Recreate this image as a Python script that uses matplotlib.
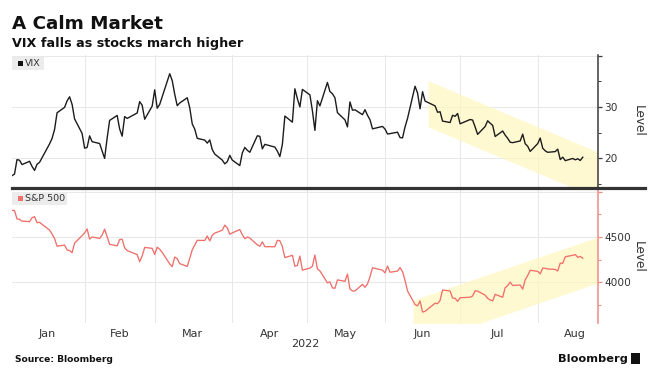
import matplotlib
matplotlib.use("Agg")
import matplotlib.pyplot as plt
import matplotlib.dates as mdates
from matplotlib.patches import Rectangle
from matplotlib.lines import Line2D
import pandas as pd
import numpy as np

# ---------------- data ----------------
holidays = ["2022-01-17", "2022-02-21", "2022-04-15", "2022-05-30", "2022-06-20", "2022-07-04"]
dates = pd.bdate_range("2022-01-03", "2022-08-19")
dates = dates[~dates.isin(pd.to_datetime(holidays))]

vix = [
    # Jan
    16.60, 16.91, 19.73, 19.61, 18.76, 19.40, 18.41, 17.62, 18.83, 19.19,
    22.79, 23.85, 25.59, 28.85, 29.90, 31.16, 31.96, 30.49, 27.66, 24.83,
    # Feb
    21.96, 22.09, 24.35, 23.22, 22.86, 21.44, 19.96, 23.91, 27.36, 28.33,
    25.70, 24.29, 28.11, 27.75, 28.81, 31.02, 30.32, 27.59, 30.15,
    # Mar
    33.32, 29.74, 30.48, 31.98, 36.45, 35.13, 32.45, 30.23, 30.75, 31.77,
    29.83, 26.67, 25.67, 23.87, 23.53, 22.94, 23.57, 21.67, 20.81, 19.63,
    18.90, 19.33, 20.56,
    # Apr
    19.63, 18.57, 21.03, 22.10, 21.55, 21.16, 24.37, 24.26, 21.82, 22.70,
    22.17, 21.37, 20.32, 22.68, 28.21, 27.02, 33.52, 31.60, 29.99, 33.40,
    # May
    32.34, 29.25, 25.42, 31.20, 30.19, 34.75, 32.99, 32.56, 31.77, 28.87,
    27.47, 26.10, 30.96, 29.35, 29.43, 28.48, 29.45, 28.37, 27.50, 25.72, 26.19,
    # Jun
    25.69, 24.72, 24.79, 25.07, 24.02, 23.96, 26.09, 27.75, 34.02, 32.69,
    29.62, 32.95, 31.13, 30.19, 28.95, 29.05, 27.23, 26.95, 28.36, 28.16, 28.71,
    # Jul
    26.70, 27.54, 27.43, 26.08, 24.64, 26.17, 27.29, 26.82, 26.40, 24.23,
    25.30, 24.50, 23.88, 23.11, 23.03, 23.36, 24.69, 22.82, 22.33, 21.33,
    # Aug
    22.84, 23.93, 21.95, 21.44, 21.15, 21.29, 21.77, 19.74, 20.20, 19.53,
    19.95, 19.69, 19.90, 19.56, 20.20,
]

spx = [
    # Jan
    4796.56, 4793.54, 4700.58, 4696.05, 4677.03, 4670.29, 4713.07, 4726.35, 4659.03, 4662.85,
    4577.11, 4532.76, 4482.73, 4397.94, 4410.13, 4356.45, 4349.93, 4326.51, 4431.85, 4515.55,
    # Feb
    4546.54, 4589.38, 4477.44, 4500.53, 4483.87, 4521.54, 4587.18, 4504.08, 4418.64, 4401.67,
    4471.07, 4475.01, 4380.26, 4348.87, 4304.76, 4225.50, 4288.70, 4384.65, 4373.94,
    # Mar
    4306.26, 4386.54, 4363.49, 4328.87, 4201.09, 4170.70, 4277.88, 4259.52, 4204.31, 4173.11,
    4262.45, 4357.86, 4411.67, 4463.12, 4461.18, 4511.61, 4456.24, 4520.16, 4543.06, 4575.52,
    4631.60, 4602.45, 4530.41,
    # Apr
    4545.86, 4582.64, 4525.12, 4481.15, 4500.21, 4488.28, 4412.53, 4397.45, 4446.59, 4392.59,
    4391.69, 4462.21, 4459.45, 4393.66, 4271.78, 4296.12, 4175.20, 4183.96, 4287.50, 4131.93,
    # May
    4155.38, 4175.48, 4300.17, 4146.87, 4123.34, 3991.24, 4001.05, 3935.18, 3930.08, 4023.89,
    4008.01, 4088.85, 3923.68, 3900.79, 3901.36, 3973.75, 3941.48, 3978.73, 4057.84, 4158.24, 4132.15,
    # Jun
    4101.23, 4176.82, 4108.54, 4121.43, 4160.68, 4115.77, 4017.82, 3900.86, 3749.63, 3735.48,
    3789.99, 3666.77, 3674.84, 3764.79, 3759.89, 3795.73, 3911.74, 3900.11, 3821.55, 3818.83, 3785.38,
    # Jul
    3825.33, 3831.39, 3845.08, 3902.62, 3899.38, 3854.43, 3818.80, 3801.78, 3790.38, 3863.16,
    3830.85, 3936.69, 3959.90, 3998.95, 3961.63, 3966.84, 3921.05, 4023.61, 4072.43, 4130.29,
    # Aug
    4118.63, 4091.19, 4155.17, 4151.94, 4145.19, 4140.06, 4122.47, 4210.24, 4207.27, 4280.15,
    4297.14, 4305.20, 4274.04, 4283.74, 4265.00,
]

# trend bands (corners in data coordinates)
vix_band_x = ["2022-06-18 05:00", "2022-08-25 02:00"]
vix_band_top = [35.1, 21.2]
vix_band_bottom = [26.1, 12.2]
spx_band_x = ["2022-06-12 05:00", "2022-08-25 02:00"]
spx_band_top = [3800, 4500]
spx_band_bottom = [3290, 3990]

month_labels = ["Jan", "Feb", "Mar", "Apr", "May", "Jun", "Jul", "Aug"]
month_label_dates = ["2022-01-17", "2022-02-15", "2022-03-16", "2022-04-16",
                     "2022-05-16", "2022-06-16", "2022-07-16", "2022-08-16"]
vix_ticks = [20, 30, 40]
vix_ticklabels = ["20", "30", ""]
spx_ticks = [4000, 4500, 5000]
spx_ticklabels = ["4000", "4500", ""]

# ---------------- figure ----------------
W, H = 653, 377
fig = plt.figure(figsize=(W / 100, H / 100), dpi=100)
plt.rcParams["font.family"] = ["DejaVu Sans"]

def fx(px):
    return px / W

def fy(py):
    return 1 - py / H

left_px, right_px = 12, 598
ax1 = fig.add_axes([fx(left_px), fy(188), fx(right_px - left_px), (188 - 55) / H])
ax2 = fig.add_axes([fx(left_px), fy(323), fx(right_px - left_px), (323 - 190) / H])

xmin = pd.Timestamp("2022-01-03")
xmax = pd.Timestamp("2022-08-25 02:00")

VIX_COLOR = "#1c1c1c"
SPX_COLOR = "#ef6f6a"
GRID = "#e8e8e8"
BAND = "#fff7bf"
TXT = "#333333"

ax1.fill_between(pd.to_datetime(vix_band_x), vix_band_bottom, vix_band_top,
                 color=BAND, alpha=0.7, lw=0, zorder=1)
ax2.fill_between(pd.to_datetime(spx_band_x), spx_band_bottom, spx_band_top,
                 color=BAND, alpha=0.7, lw=0, zorder=1)

ax1.plot(dates, vix, color=VIX_COLOR, lw=1.0, zorder=3)
ax2.plot(dates, spx, color=SPX_COLOR, lw=0.95, zorder=3)

ax1.set_ylim(14.2, 40.1)
ax2.set_ylim(3545, 5022)

month_starts = pd.date_range("2022-02-01", "2022-08-01", freq="MS")
for ax, ticks, labels, spcol in [(ax1, vix_ticks, vix_ticklabels, "#3a3a3a"),
                                 (ax2, spx_ticks, spx_ticklabels, "#f08a86")]:
    ax.set_xlim(xmin, xmax)
    ax.set_facecolor("none")
    for s in ["top", "left", "bottom"]:
        ax.spines[s].set_visible(False)
    ax.spines["right"].set_color(spcol)
    ax.spines["right"].set_linewidth(1.1)
    ax.yaxis.tick_right()
    ax.set_yticks(ticks)
    ax.set_yticklabels(labels)
    minors = [(ticks[i] + ticks[i + 1]) / 2 for i in range(len(ticks) - 1)]
    minors = [ticks[0] - (ticks[1] - ticks[0]) / 2] + minors
    ax.set_yticks(minors, minor=True)
    ax.tick_params(axis="y", which="major", direction="out", length=3, width=0.9,
                   color=spcol, labelsize=7.6, labelcolor=TXT, pad=1.5)
    ax.tick_params(axis="y", which="minor", direction="out", length=1.8, width=0.7,
                   color=spcol)
    ax.set_xticks(month_starts)
    ax.set_xticklabels([])
    ax.tick_params(axis="x", which="both", length=0)
    ax.grid(True, which="major", color=GRID, lw=0.75, zorder=0)
    ax.set_axisbelow(True)

# month labels on lower axis
ax2.set_xticks(pd.to_datetime(month_label_dates), minor=True)
ax2.set_xticklabels(month_labels, minor=True)
ax2.tick_params(axis="x", which="minor", length=0, labelsize=8, labelcolor=TXT, pad=4)
ax1.tick_params(axis="x", which="minor", length=0, labelbottom=False)

# thick divider
fig.add_artist(Line2D([fx(12), fx(645)], [fy(188), fy(188)], color="#333333", lw=2.3))

# legend boxes
for ax, label, col, wpx in [(ax1, "VIX", "#111111", 32), (ax2, "S&P 500", SPX_COLOR, 55)]:
    axw = right_px - left_px
    ax.add_patch(Rectangle((0, 0.887), wpx / axw, 0.098, transform=ax.transAxes,
                           facecolor="#ececec", edgecolor="none", zorder=4, clip_on=False))
    ax.add_patch(Rectangle((6 / axw, 0.917), 4.8 / axw, 0.037, transform=ax.transAxes,
                           facecolor=col, edgecolor="none", zorder=5, clip_on=False))
    ax.text(12.5 / axw, 0.934, label, transform=ax.transAxes, fontsize=6.8,
            color=TXT, va="center", ha="left", zorder=6)

# Level labels
fig.text(fx(638), fy(121), "Level", rotation=270, fontsize=8.7, color=TXT,
         ha="center", va="center")
fig.text(fx(638), fy(257), "Level", rotation=270, fontsize=8.7, color=TXT,
         ha="center", va="center")

# year label
fig.text(fx(305), fy(344), "2022", fontsize=8, color=TXT, ha="center", va="center")

# titles
fig.text(fx(12), fy(29), "A Calm Market", fontsize=13.2, fontweight="bold",
         color="#111111", ha="left", va="baseline")
fig.text(fx(12), fy(46.5), "VIX falls as stocks march higher", fontsize=9.2,
         fontweight="bold", color="#111111", ha="left", va="baseline")

# footer
fig.text(fx(15), fy(362.5), "Source: Bloomberg", fontsize=6.6, fontweight="bold",
         color="#111111", ha="left", va="baseline")
fig.text(fx(628), fy(362), "Bloomberg", fontsize=8.2, fontweight="bold",
         color="#111111", ha="right", va="baseline")
fig.add_artist(Rectangle((fx(631), fy(364)), fx(9), 11 / H, facecolor="#111111",
                         edgecolor="none", transform=fig.transFigure))

fig.savefig("out.png", dpi=100, facecolor="white")
